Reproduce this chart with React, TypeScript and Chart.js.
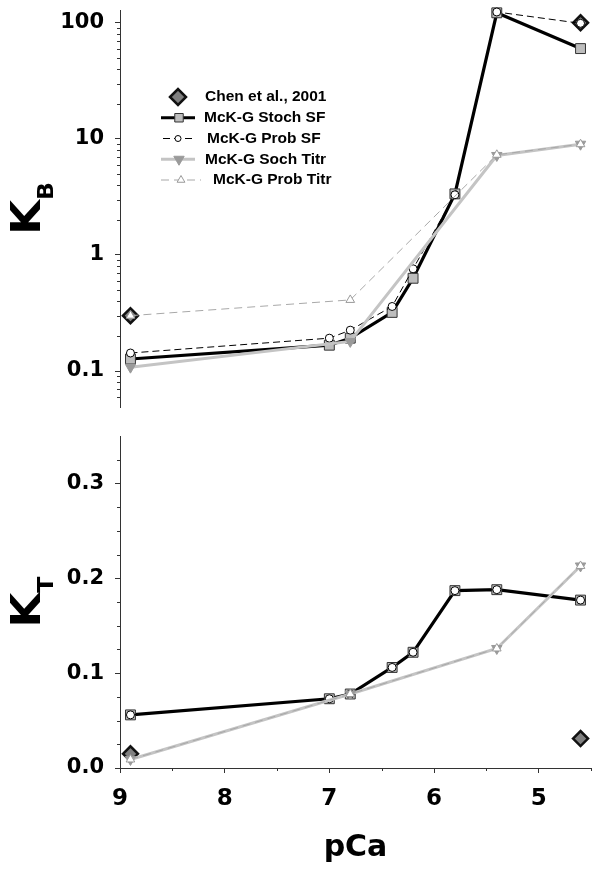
import React, { useEffect, useRef } from "react";
import { Chart, registerables } from "chart.js";
import { drawPoint } from "chart.js/helpers";

Chart.register(...registerables);

const FONT = "'DejaVu Sans', 'Liberation Sans', sans-serif";
const LEGEND_FONT = "'Liberation Sans', Arial, sans-serif";

// ---------- data ----------
const seriesNames = [
  "Chen et al., 2001",
  "McK-G Stoch SF",
  "McK-G Prob SF",
  "McK-G Soch Titr",
  "McK-G Prob Titr",
];

const pCaChen = [8.9, 4.6];
const pCaSF = [8.9, 7.0, 6.8, 6.4, 6.2, 5.8, 5.4, 4.6];
const pCaTitr = [8.9, 6.8, 5.4, 4.6];

// K_B (top panel, log scale)
const kbChen = [0.3, 100];
const kbStochSF = [0.127, 0.167, 0.192, 0.32, 0.63, 3.36, 122, 60];
const kbProbSF = [0.143, 0.192, 0.225, 0.36, 0.76, 3.3, 124, 99];
const kbSochTitr = [0.108, 0.18, 7.2, 9.0];
const kbProbTitr = [0.3, 0.41, 7.3, 9.0];

// K_T (bottom panel, linear scale)
const ktChen = [0.015, 0.031];
const ktStochSF = [0.056, 0.073, 0.078, 0.106, 0.122, 0.187, 0.188, 0.177];
const ktProbSF = [0.056, 0.073, 0.078, 0.106, 0.122, 0.187, 0.188, 0.177];
const ktSochTitr = [0.009, 0.078, 0.126, 0.213];
const ktProbTitr = [0.009, 0.078, 0.126, 0.213];

// ticks
const kbTicks = [0.1, 1, 10, 100];
const kbTickLabels = ["0.1", "1", "10", "100"];
const kbMinor = [0.06, 0.07, 0.08, 0.09, 0.2, 0.3, 0.4, 0.5, 0.6, 0.7, 0.8, 0.9, 2, 3, 4, 5, 6, 7, 8, 9, 20, 30, 40, 50, 60, 70, 80, 90];
const ktTicks = [0, 0.1, 0.2, 0.3];
const ktTickLabels = ["0.0", "0.1", "0.2", "0.3"];
const ktMinor = [0.025, 0.05, 0.075, 0.125, 0.15, 0.175, 0.225, 0.25, 0.275, 0.325];
const pCaTicks = [9, 8, 7, 6, 5];
const pCaTickLabels = ["9", "8", "7", "6", "5"];
const pCaMinor = [8.5, 7.5, 6.5, 5.5, 4.5];

// ---------- styles ----------
const styles: any[] = [
  { showLine: false, borderColor: "#111", borderWidth: 0, borderDash: [], pointStyle: "rectRot", pointRadius: 7.5, pointRotation: 0, pointBackgroundColor: "#808080", pointBorderColor: "#111", pointBorderWidth: 2.5, order: 5 },
  { showLine: true, borderColor: "#000", borderWidth: 3.2, borderDash: [], pointStyle: "rect", pointRadius: 7, pointRotation: 0, pointBackgroundColor: "#bdbdbd", pointBorderColor: "#333", pointBorderWidth: 1, order: 4 },
  { showLine: true, borderColor: "#000", borderWidth: 1, borderDash: [7, 4], pointStyle: "circle", pointRadius: 4, pointRotation: 0, pointBackgroundColor: "#fff", pointBorderColor: "#000", pointBorderWidth: 1, order: 3 },
  { showLine: true, borderColor: "#c4c4c4", borderWidth: 3, borderDash: [], pointStyle: "triangle", pointRadius: 6, pointRotation: 180, pointBackgroundColor: "#9a9a9a", pointBorderColor: "#9a9a9a", pointBorderWidth: 1, order: 2 },
  { showLine: true, borderColor: "#a8a8a8", borderWidth: 1, borderDash: [8, 5], pointStyle: "triangle", pointRadius: 5, pointRotation: 0, pointBackgroundColor: "#fff", pointBorderColor: "#999", pointBorderWidth: 1, order: 1 },
];
const legendRadii = [8, 6, 3, 6, 4.5];
const legendTextShift = [1, 0, 3, 1, 9];
const legendLineEnds = [[0, 0], [161, 195], [163, 193], [161, 195], [161, 201]];
const legendMarkerX = [178, 179, 178, 179, 181];

function pts(xs: number[], ys: number[]) {
  return xs.map((x, i) => ({ x, y: ys[i] }));
}

function makeDatasets(panel: number[][][]) {
  return panel.map(([xs, ys], i) => {
    const s = styles[i];
    return {
      label: seriesNames[i],
      data: pts(xs, ys),
      showLine: s.showLine,
      borderColor: s.borderColor,
      borderWidth: s.borderWidth,
      borderDash: s.borderDash,
      pointStyle: s.pointStyle,
      pointRadius: s.pointRadius,
      pointRotation: s.pointRotation,
      pointBackgroundColor: s.pointBackgroundColor,
      pointBorderColor: s.pointBorderColor,
      pointBorderWidth: s.pointBorderWidth,
      order: s.order,
      fill: false,
      tension: 0,
      clip: false,
    };
  });
}

// ---------- plugins ----------
const legendPlugin = {
  id: "customLegend",
  afterDraw(chart: any) {
    const ctx = chart.ctx;
    const y0 = 97;
    const dy = 20.75;
    ctx.save();
    seriesNames.forEach((name, i) => {
      const st = styles[i];
      const y = y0 + i * dy;
      if (st.showLine) {
        ctx.beginPath();
        ctx.setLineDash(st.borderDash);
        ctx.lineWidth = st.borderWidth;
        ctx.strokeStyle = st.borderColor;
        ctx.moveTo(legendLineEnds[i][0], y);
        ctx.lineTo(legendLineEnds[i][1], y);
        ctx.stroke();
      }
      ctx.setLineDash([]);
      ctx.fillStyle = st.pointBackgroundColor;
      ctx.strokeStyle = st.pointBorderColor;
      ctx.lineWidth = st.pointBorderWidth;
      drawPoint(ctx, { pointStyle: st.pointStyle, radius: legendRadii[i], rotation: st.pointRotation, borderWidth: st.pointBorderWidth } as any, legendMarkerX[i], y);
      ctx.fillStyle = "#000";
      ctx.font = `bold 15.5px ${LEGEND_FONT}`;
      ctx.textBaseline = "middle";
      ctx.textAlign = "left";
      ctx.fillText(name, 204 + legendTextShift[i], y);
    });
    ctx.restore();
  },
};

function yTitlePlugin(main: string, sub: string) {
  return {
    id: "yTitle",
    afterDraw(chart: any) {
      const { ctx, chartArea } = chart;
      const yc = (chartArea.top + chartArea.bottom) / 2;
      ctx.save();
      ctx.translate(40, yc);
      ctx.rotate(-Math.PI / 2);
      ctx.scale(1.12, 1);
      ctx.fillStyle = "#000";
      ctx.textBaseline = "alphabetic";
      ctx.textAlign = "left";
      ctx.font = `bold 40px ${FONT}`;
      const wK = ctx.measureText(main).width;
      ctx.font = `bold 21px ${FONT}`;
      const wS = ctx.measureText(sub).width;
      const x0 = -(wK + wS) / 2;
      ctx.font = `bold 40px ${FONT}`;
      ctx.fillText(main, x0, 0);
      ctx.font = `bold 21px ${FONT}`;
      ctx.fillText(sub, x0 + wK, 13);
      ctx.restore();
    },
  };
}

function minorTickPlugin(yMinor: number[], xMinor: number[] | null) {
  return {
    id: "minorTicks",
    afterDraw(chart: any) {
      const { ctx, chartArea, scales } = chart;
      ctx.save();
      ctx.strokeStyle = "#333";
      ctx.lineWidth = 1;
      ctx.beginPath();
      yMinor.forEach((v) => {
        const y = Math.round(scales.y.getPixelForValue(v)) + 0.5;
        ctx.moveTo(chartArea.left - 3, y);
        ctx.lineTo(chartArea.left, y);
      });
      if (xMinor) {
        xMinor.forEach((v) => {
          const x = Math.round(scales.x.getPixelForValue(v)) + 0.5;
          ctx.moveTo(x, chartArea.bottom);
          ctx.lineTo(x, chartArea.bottom + 3);
        });
      }
      ctx.stroke();
      ctx.restore();
    },
  };
}

const yTickFont = { family: FONT, size: 21, weight: "bold" as const };
const xTickFont = { family: FONT, size: 23, weight: "bold" as const };

function TopChart() {
  const ref = useRef<HTMLCanvasElement>(null);
  useEffect(() => {
    const chart = new Chart(ref.current!, {
      type: "line",
      data: {
        datasets: makeDatasets([
          [pCaChen, kbChen],
          [pCaSF, kbStochSF],
          [pCaSF, kbProbSF],
          [pCaTitr, kbSochTitr],
          [pCaTitr, kbProbTitr],
        ]) as any,
      },
      options: {
        animation: false,
        responsive: false,
        devicePixelRatio: 1,
        layout: { padding: { top: 8, right: 8, bottom: 13, left: 0 } },
        plugins: { legend: { display: false }, tooltip: { enabled: false } },
        scales: {
          x: { type: "linear", min: 4.5, max: 9, reverse: true, display: false },
          y: {
            type: "logarithmic",
            min: 0.049,
            max: 129,
            afterBuildTicks: (s: any) => {
              s.ticks = kbTicks.map((v) => ({ value: v }));
            },
            afterFit: (s: any) => {
              s.width = 120;
              s.paddingTop = 0;
              s.paddingBottom = 0;
            },
            ticks: {
              callback: (_v: any, i: number) => kbTickLabels[i],
              font: yTickFont,
              color: "#000",
              padding: 11,
              autoSkip: false,
            },
            grid: { display: true, drawOnChartArea: false, drawTicks: true, tickLength: 5, tickColor: "#333", tickWidth: 1 },
            border: { display: true, color: "#333", width: 1 },
          },
        },
      } as any,
      plugins: [legendPlugin, yTitlePlugin("K", "B"), minorTickPlugin(kbMinor, null)],
    });
    return () => chart.destroy();
  }, []);
  return <canvas ref={ref} width={601} height={420} style={{ position: "absolute", left: 0, top: 0, display: "block" }} />;
}

function BottomChart() {
  const ref = useRef<HTMLCanvasElement>(null);
  useEffect(() => {
    const chart = new Chart(ref.current!, {
      type: "line",
      data: {
        datasets: makeDatasets([
          [pCaChen, ktChen],
          [pCaSF, ktStochSF],
          [pCaSF, ktProbSF],
          [pCaTitr, ktSochTitr],
          [pCaTitr, ktProbTitr],
        ]) as any,
      },
      options: {
        animation: false,
        responsive: false,
        devicePixelRatio: 1,
        layout: { padding: { top: 16, right: 8, bottom: 0, left: 0 } },
        plugins: { legend: { display: false }, tooltip: { enabled: false } },
        scales: {
          x: {
            type: "linear",
            min: 4.5,
            max: 9,
            reverse: true,
            position: "bottom",
            afterBuildTicks: (s: any) => {
              s.ticks = pCaTicks.map((v) => ({ value: v }));
            },
            afterFit: (s: any) => {
              s.height = 103;
              s.paddingLeft = 0;
              s.paddingRight = 0;
            },
            ticks: {
              callback: (_v: any, i: number) => pCaTickLabels[i],
              font: xTickFont,
              color: "#000",
              padding: 12,
              maxRotation: 0,
              autoSkip: false,
            },
            grid: { display: true, drawOnChartArea: false, drawTicks: true, tickLength: 5, tickColor: "#333", tickWidth: 1 },
            border: { display: true, color: "#333", width: 1 },
            title: {
              display: true,
              text: "pCa",
              color: "#000",
              font: { family: FONT, size: 30, weight: "bold" },
              padding: { top: 0, bottom: 5 },
            },
          },
          y: {
            type: "linear",
            min: 0,
            max: 0.35,
            afterBuildTicks: (s: any) => {
              s.ticks = ktTicks.map((v) => ({ value: v }));
            },
            afterFit: (s: any) => {
              s.width = 120;
              s.paddingTop = 0;
              s.paddingBottom = 0;
            },
            ticks: {
              callback: (_v: any, i: number) => ktTickLabels[i],
              font: yTickFont,
              color: "#000",
              padding: 11,
              autoSkip: false,
            },
            grid: { display: true, drawOnChartArea: false, drawTicks: true, tickLength: 5, tickColor: "#333", tickWidth: 1 },
            border: { display: true, color: "#333", width: 1 },
          },
        },
      } as any,
      plugins: [yTitlePlugin("K", "T"), minorTickPlugin(ktMinor, pCaMinor)],
    });
    return () => chart.destroy();
  }, []);
  return <canvas ref={ref} width={601} height={451} style={{ position: "absolute", left: 0, top: 420, display: "block" }} />;
}

export default function App() {
  return (
    <div style={{ position: "absolute", left: 0, top: 0, width: 601, height: 871, background: "#fff" }}>
      <TopChart />
      <BottomChart />
    </div>
  );
}
